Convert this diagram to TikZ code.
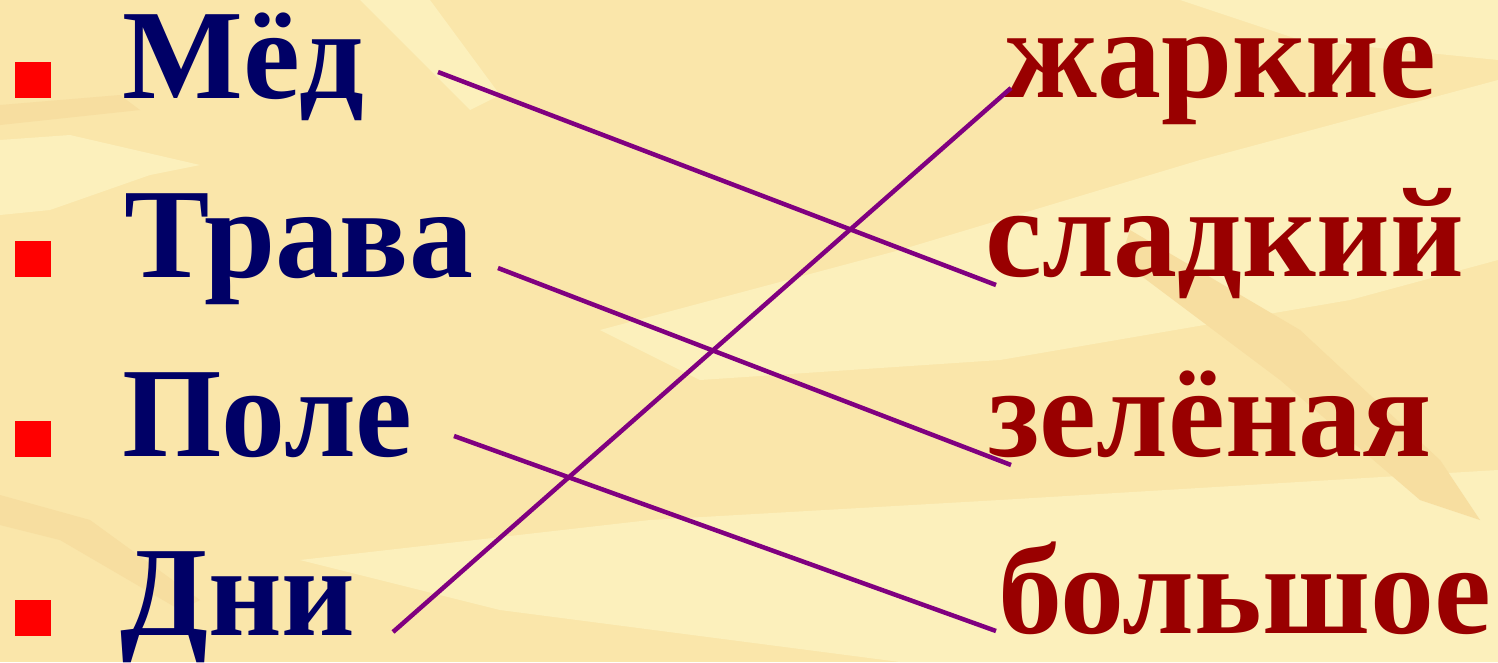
\documentclass[tikz,border=0pt]{standalone}
\usepackage{fontspec}
\setmainfont{Liberation Serif}
\usetikzlibrary{positioning,calc}
\definecolor{slideBg}{HTML}{FAE6AA}
\definecolor{slideLight}{HTML}{FCF0BC}
\definecolor{slideDark}{HTML}{F7DEA0}
\definecolor{nounBlue}{HTML}{000066}
\definecolor{adjRed}{HTML}{990000}
\definecolor{bulletRed}{HTML}{FF0000}
\definecolor{linkPurple}{HTML}{800080}

\begin{document}
\begin{tikzpicture}[
    x=1pt, y=-1pt,
    noun/.style   = {font=\fontsize{128}{130}\selectfont\bfseries, text=nounBlue, anchor=base west, inner sep=0pt},
    adj/.style    = {font=\fontsize{128}{130}\selectfont\bfseries, text=adjRed, anchor=base west, inner sep=0pt},
    bullet/.style = {fill=bulletRed, draw=none, minimum size=36pt, inner sep=0pt, anchor=south west},
    link/.style   = {draw=linkPurple, line width=4.5pt},
    streak/.style = {fill=slideLight, draw=none},
    shade/.style  = {fill=slideDark, draw=none}
  ]
  \useasboundingbox (0,0) rectangle (1498,662);
  \fill[slideBg] (0,0) rectangle (1498,662);

  %% background texture: a few soft light and dark streaks
  \fill[streak] (0,140) -- (70,135) -- (200,165) -- (150,175) -- (50,210) -- (0,215) -- cycle;
  \fill[streak] (360,0) -- (430,0) -- (500,95) -- (470,110) -- cycle;
  \fill[streak] (600,330) -- (900,250) -- (1200,160) -- (1498,80) -- (1498,260) -- (1350,300) -- (1000,360) -- (700,380) -- cycle;
  \fill[streak] (300,560) -- (650,520) -- (1000,500) -- (1498,470) -- (1498,662) -- (900,662) -- (500,610) -- cycle;
  \fill[streak] (1180,0) -- (1498,0) -- (1498,60) -- (1300,40) -- cycle;
  \fill[shade] (0,105) -- (120,95) -- (140,110) -- (0,125) -- cycle;
  \fill[shade] (0,495) -- (90,520) -- (200,600) -- (180,610) -- (60,540) -- (0,525) -- cycle;
  \fill[shade] (1130,230) -- (1300,330) -- (1440,460) -- (1480,520) -- (1420,500) -- (1280,380) -- (1120,260) -- cycle;

  %% left column: nouns with red square bullets
  \node[bullet] (b1) at (15,98)  {};
  \node[bullet] (b2) at (15,277) {};
  \node[bullet] (b3) at (15,457) {};
  \node[bullet] (b4) at (15,636) {};
  \node[noun] (med)   at (122,98)  {Мёд};
  \node[noun] (trava) at (124,277) {Трава};
  \node[noun] (pole)  at (122,456) {Поле};
  \node[noun] (dni)   at (120,635) {Дни};

  %% right column: adjectives
  \node[adj] (zharkie)  at (1004,97)  {жаркие};
  \node[adj] (sladkiy)  at (985,276)  {сладкий};
  \node[adj] (zelenaya) at (988,456)  {зелёная};
  \node[adj] (bolshoe)  at (998,633)  {большое};

  %% connector ends
  \coordinate (med-e)      at (438,72);
  \coordinate (trava-e)    at (498,268);
  \coordinate (pole-e)     at (454,436);
  \coordinate (dni-e)      at (393,632);
  \coordinate (zharkie-w)  at (1011,88);
  \coordinate (sladkiy-w)  at (996,285);
  \coordinate (zelenaya-w) at (1011,465);
  \coordinate (bolshoe-w)  at (996,631);

  \draw[link] (med-e)   -- (sladkiy-w);
  \draw[link] (trava-e) -- (zelenaya-w);
  \draw[link] (pole-e)  -- (bolshoe-w);
  \draw[link] (dni-e)   -- (zharkie-w);
\end{tikzpicture}
\end{document}
